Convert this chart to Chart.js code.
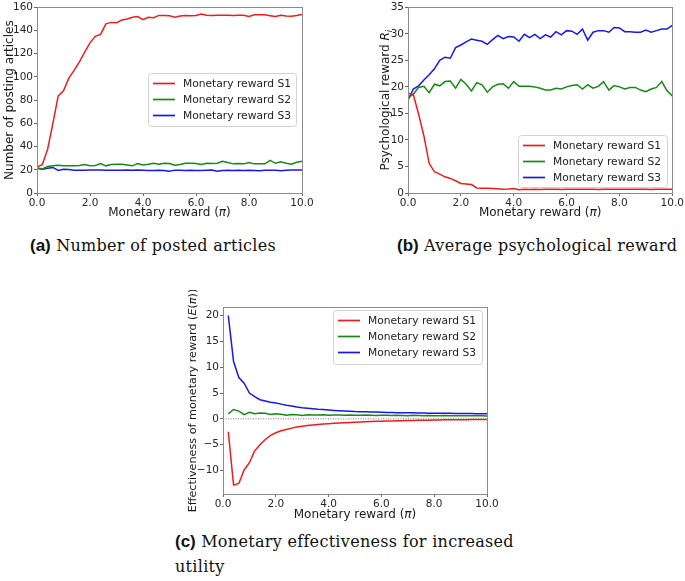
<!DOCTYPE html>
<html>
<head>
<meta charset="utf-8">
<script src="https://cdn.jsdelivr.net/npm/chart.js"></script>
<style>
  html, body { margin: 0; padding: 0; background: #fff; }
  #fig { position: relative; width: 685px; height: 581px; overflow: hidden; background: #fff; }
  #fig canvas { position: absolute; }
  .cap { position: absolute; font-family: 'DejaVu Serif', serif; font-size: 16px; letter-spacing: 0.3px; color: #111; white-space: nowrap; line-height: 26px; }
  .cap b { font-family: 'Liberation Sans', Arial, sans-serif; font-weight: bold; font-size: 17px; letter-spacing: 0; }
</style>
</head>
<body>
<div id="fig">
  <canvas id="chartA" width="340" height="225" style="left:0;top:0"></canvas>
  <canvas id="chartB" width="345" height="225" style="left:340px;top:0"></canvas>
  <canvas id="chartC" width="360" height="235" style="left:160px;top:290px"></canvas>
  <div class="cap" style="left:30px;top:233px"><b>(a)</b> Number of posted articles</div>
  <div class="cap" style="left:397px;top:233px"><b>(b)</b> Average psychological reward</div>
  <div class="cap" style="left:175px;top:529px;line-height:25px"><b>(c)</b> Monetary effectiveness for increased<br>utility</div>
</div>
<script>
// monetary reward pi, steps of 0.2
const rewardSteps = [0.0, 0.2, 0.4, 0.6, 0.8, 1.0, 1.2, 1.4, 1.6, 1.8, 2.0, 2.2, 2.4, 2.6, 2.8, 3.0, 3.2, 3.4, 3.6, 3.8, 4.0,
    4.2, 4.4, 4.6, 4.8, 5.0, 5.2, 5.4, 5.6, 5.8, 6.0, 6.2, 6.4, 6.6, 6.8, 7.0, 7.2, 7.4, 7.6, 7.8, 8.0,
    8.2, 8.4, 8.6, 8.8, 9.0, 9.2, 9.4, 9.6, 9.8, 10.0];
const rewardStepsC = rewardSteps.slice(1); // (c) starts at 0.2

const seriesLabels = ['Monetary reward S1', 'Monetary reward S2', 'Monetary reward S3'];
const seriesColors = ['#f01c1c', '#158a15', '#1717ee'];

// (a) number of posting articles
const postS1 = [22.3, 24.3, 37.7, 60, 83.7, 88, 99, 105.7, 112.9, 121.4, 129.4, 135, 136.6, 145.7, 147, 146.6, 149, 150, 151.4, 152, 149.4,
    151.4, 151, 153, 153, 152.8, 151.5, 152.5, 153, 152.8, 153, 154.2, 153.2, 153, 153.2, 153.2, 153.2, 153, 153.2, 153.2, 152,
    153.5, 153.5, 153.5, 152.8, 152, 153.2, 152.5, 152.2, 153, 153.8];
const postS2 = [21.4, 20.8, 22.8, 23.4, 24, 23.4, 23.4, 23.4, 23.7, 24.5, 23.4, 23.7, 25.4, 23.4, 24.5, 24.8, 24.8, 24.2, 23.4, 25.4, 24.2,
    24.8, 25.6, 24.8, 25.6, 25.4, 24, 24.5, 25.6, 25.6, 25.4, 24.5, 25.6, 25.4, 25.6, 27.4, 26.2, 25.1, 25.4, 25.1, 26.2,
    25.1, 25.1, 25.1, 28.2, 25.6, 26.8, 25.6, 24.8, 26.5, 27.4];
const postS3 = [21.4, 20.5, 21.4, 22, 19.4, 20.5, 20.2, 19.7, 19.7, 19.7, 19.9, 19.9, 19.9, 19.7, 19.7, 19.7, 19.7, 19.9, 19.7, 19.9, 19.7,
    19.4, 19.4, 19.7, 19.4, 18.8, 19.7, 19.7, 19.4, 19.7, 19.4, 19.4, 19.7, 19.9, 18.8, 19.4, 19.7, 19.4, 19.7, 19.4, 19.7,
    19.4, 19.1, 19.7, 19.7, 19.7, 19.1, 19.7, 19.9, 19.9, 19.9];

// (b) average psychological reward
const psyS1 = [18.8, 18.6, 14.9, 10.8, 5.6, 4.0, 3.55, 3.05, 2.75, 2.3, 1.8, 1.7, 1.6, 0.95, 0.9, 0.9, 0.85, 0.8, 0.7, 0.75, 0.85,
    0.6, 0.7, 0.65, 0.7, 0.65, 0.7, 0.72, 0.7, 0.68, 0.7, 0.7, 0.72, 0.7, 0.7, 0.7, 0.68, 0.7, 0.7, 0.7, 0.7,
    0.7, 0.7, 0.72, 0.7, 0.7, 0.68, 0.7, 0.7, 0.7, 0.7];
const psyS2 = [18.0, 18.6, 19.9, 20.1, 18.9, 20.5, 20.2, 21.0, 21.1, 19.75, 21.4, 20.5, 19.25, 20.8, 20.4, 19.0, 20.0, 20.5, 20.6, 19.75, 21.0,
    20.1, 20.1, 20.1, 20.0, 19.75, 19.4, 19.4, 19.75, 19.6, 20.0, 20.25, 20.4, 19.6, 20.4, 19.75, 20.1, 21.0, 19.4, 20.25, 20.0,
    19.6, 19.9, 19.9, 19.4, 19.1, 19.6, 19.9, 21.0, 19.25, 18.3];
const psyS3 = [17.5, 19.6, 20.2, 21.3, 22.3, 23.4, 25.0, 25.6, 25.4, 27.4, 27.9, 28.5, 29.0, 28.8, 28.6, 28.0, 28.9, 29.7, 29.1, 29.5, 29.4,
    28.6, 29.9, 29.3, 29.9, 29.1, 29.8, 29.4, 30.4, 29.8, 30.6, 30.5, 29.9, 30.9, 28.8, 30.3, 30.6, 30.6, 30.3, 31.2, 31.1,
    30.4, 30.4, 30.3, 30.3, 30.7, 30.3, 30.6, 30.9, 30.9, 31.6];

// (c) effectiveness of monetary reward E(pi), from pi = 0.2
const effS1 = [-2.5, -12.8, -12.5, -9.9, -8.5, -6.2, -5.0, -4.0, -3.2, -2.7, -2.3, -2.05, -1.8, -1.6, -1.45, -1.3, -1.2, -1.1, -1.0, -0.93,
    -0.85, -0.8, -0.75, -0.7, -0.65, -0.6, -0.55, -0.5, -0.48, -0.45, -0.42, -0.4, -0.37, -0.35, -0.33, -0.3, -0.28, -0.26, -0.25, -0.23,
    -0.22, -0.2, -0.19, -0.18, -0.17, -0.16, -0.15, -0.14, -0.13, -0.12];
const effS2 = [0.95, 1.8, 1.5, 0.8, 1.25, 1.0, 1.15, 1.1, 0.85, 1.0, 0.9, 0.7, 0.85, 0.8, 0.65, 0.78, 0.75, 0.72, 0.78, 0.7,
    0.75, 0.72, 0.7, 0.74, 0.7, 0.68, 0.72, 0.7, 0.66, 0.7, 0.68, 0.65, 0.7, 0.66, 0.6, 0.68, 0.64, 0.62, 0.66, 0.62,
    0.6, 0.63, 0.61, 0.6, 0.62, 0.6, 0.58, 0.6, 0.58, 0.57];
const effS3 = [20.0, 11.1, 8.0, 6.9, 5.0, 4.3, 3.7, 3.45, 3.2, 3.05, 2.85, 2.65, 2.5, 2.3, 2.15, 2.05, 1.95, 1.85, 1.8, 1.7,
    1.62, 1.55, 1.5, 1.45, 1.4, 1.38, 1.35, 1.33, 1.3, 1.28, 1.25, 1.23, 1.2, 1.18, 1.2, 1.16, 1.13, 1.12, 1.1, 1.1,
    1.08, 1.07, 1.06, 1.05, 1.04, 1.03, 1.02, 1.0, 1.0, 1.0];

const xTickValues = [0, 2, 4, 6, 8, 10];
const yTicksA = [0, 20, 40, 60, 80, 100, 120, 140, 160];
const yTicksB = [0, 5, 10, 15, 20, 25, 30, 35];
const yTicksC = [-10, -5, 0, 5, 10, 15, 20];

const FONT = 'DejaVu Sans';
const TICK_FONT = { family: FONT, size: 10.5 };
const TICK_COLOR = '#262626';

// full box round the plot area, like matplotlib spines
const framePlugin = {
    id: 'frame',
    afterDatasetsDraw(chart) {
        const { ctx, chartArea: a } = chart;
        ctx.save();
        ctx.strokeStyle = '#8c8c8c';
        ctx.lineWidth = 1;
        ctx.strokeRect(Math.round(a.left) + 0.5, Math.round(a.top) + 0.5, Math.round(a.right - a.left), Math.round(a.bottom - a.top));
        ctx.restore();
    }
};

// legend box drawn inside the axes
const boxLegend = {
    id: 'boxLegend',
    afterDraw(chart, args, o) {
        const ctx = chart.ctx;
        ctx.save();
        ctx.beginPath();
        ctx.roundRect(o.x + 0.5, o.y + 0.5, o.w, o.h, 3);
        ctx.fillStyle = 'rgba(255,255,255,0.85)';
        ctx.fill();
        ctx.strokeStyle = '#d2d2d2';
        ctx.lineWidth = 1;
        ctx.stroke();
        ctx.font = '10.7px "' + FONT + '"';
        ctx.textBaseline = 'middle';
        chart.data.datasets.filter(d => d.inLegend).forEach((d, i) => {
            const y = o.y + 10.5 + i * 16;
            ctx.strokeStyle = d.borderColor;
            ctx.lineWidth = 1.7;
            ctx.beginPath();
            ctx.moveTo(o.x + 5, y);
            ctx.lineTo(o.x + 27, y);
            ctx.stroke();
            ctx.fillStyle = '#222';
            ctx.fillText(d.label, o.x + 35, y + 0.5);
        });
        ctx.restore();
    }
};

// axis titles with italic / subscript parts
function drawRich(ctx, segs, cx, cy, rot) {
    ctx.save();
    ctx.translate(cx, cy);
    ctx.rotate(rot);
    ctx.textBaseline = 'alphabetic';
    let total = 0;
    segs.forEach(s => {
        ctx.font = s.font;
        s.w = ctx.measureText(s.text).width;
        total += s.w;
    });
    let x = -total / 2;
    ctx.fillStyle = '#1a1a1a';
    segs.forEach(s => {
        ctx.font = s.font;
        ctx.fillText(s.text, x, 4.3 + (s.dy || 0));
        x += s.w;
    });
    ctx.restore();
}
const richTitles = {
    id: 'richTitles',
    afterDraw(chart, args, o) {
        const a = chart.chartArea;
        drawRich(chart.ctx, o.x, (a.left + a.right) / 2, o.xAt, 0);
        drawRich(chart.ctx, o.y, o.yAt, (a.top + a.bottom) / 2, -Math.PI / 2);
    }
};

const up = (t, px) => ({ text: t, font: (px || 12) + 'px "' + FONT + '"' });
const it = (t, px) => ({ text: t, font: 'oblique ' + (px || 12) + 'px "' + FONT + '"' });
const xTitle = [up('Monetary reward ('), it('π'), up(')')];

function makeChart(id, xs, values, cfg) {
    const datasets = values.map((vals, i) => ({
        label: seriesLabels[i],
        inLegend: true,
        data: xs.map((x, j) => ({ x: x, y: vals[j] })),
        borderColor: seriesColors[i],
        borderWidth: 1.5,
        pointRadius: 0,
        tension: 0,
        fill: false
    }));
    if (cfg.zeroLine) {
        datasets.unshift({
            label: 'zero',
            inLegend: false,
            data: [{ x: 0, y: 0 }, { x: 10, y: 0 }],
            borderColor: '#555',
            borderWidth: 0.8,
            borderDash: [1, 1.5],
            pointRadius: 0
        });
    }
    return new Chart(document.getElementById(id), {
        type: 'line',
        data: { datasets: datasets },
        options: {
            responsive: false,
            animation: false,
            events: [],
            layout: { padding: { left: 0, top: cfg.top, right: cfg.right, bottom: 0 } },
            plugins: {
                legend: { display: false },
                tooltip: { enabled: false },
                boxLegend: cfg.legend,
                richTitles: { x: xTitle, y: cfg.yTitle, xAt: cfg.xTitleAt, yAt: cfg.yTitleAt }
            },
            scales: {
                x: {
                    type: 'linear',
                    min: 0,
                    max: 10,
                    afterBuildTicks: s => { s.ticks = xTickValues.map(v => ({ value: v })); },
                    afterFit: s => { s.height = cfg.xHeight; },
                    ticks: { callback: v => v.toFixed(1), font: TICK_FONT, color: TICK_COLOR, padding: 1, maxRotation: 0, autoSkip: false },
                    grid: { drawOnChartArea: false, tickLength: 3, color: '#666' },
                    border: { display: false }
                },
                y: {
                    type: 'linear',
                    min: cfg.yMin,
                    max: cfg.yMax,
                    afterBuildTicks: s => { s.ticks = cfg.yTicks.map(v => ({ value: v })); },
                    afterFit: s => { s.width = cfg.yWidth; },
                    ticks: {
                        callback: v => v < 0 ? '\u2212' + Math.abs(v) : String(v),
                        font: TICK_FONT, color: TICK_COLOR, padding: 1, autoSkip: false
                    },
                    grid: { drawOnChartArea: false, tickLength: 3, color: '#666' },
                    border: { display: false }
                }
            }
        },
        plugins: [framePlugin, boxLegend, richTitles]
    });
}

makeChart('chartA', rewardSteps, [postS1, postS2, postS3], {
    top: 6, right: 38, yWidth: 37, xHeight: 32,
    yMin: 0, yMax: 160, yTicks: yTicksA,
    legend: { x: 148, y: 73, w: 148, h: 53 },
    yTitle: [up('Number of posting articles')],
    xTitleAt: 212, yTitleAt: 8.5
});

makeChart('chartB', rewardSteps, [psyS1, psyS2, psyS3], {
    top: 6, right: 12, yWidth: 68, xHeight: 32,
    yMin: 0, yMax: 35, yTicks: yTicksB,
    legend: { x: 178, y: 135, w: 149, h: 52 },
    yTitle: [up('Psychological reward '), it('R'), { text: 'i', font: 'oblique 8.5px "' + FONT + '"', dy: 2.5 }],
    xTitleAt: 212, yTitleAt: 45
});

makeChart('chartC', rewardStepsC, [effS1, effS2, effS3], {
    top: 17, right: 33, yWidth: 63, xHeight: 31,
    yMin: -14.55, yMax: 21.65, yTicks: yTicksC,
    zeroLine: true,
    legend: { x: 173, y: 20, w: 149, h: 54 },
    yTitle: [up('Effectiveness of monetary reward (', 11.2), it('E', 11.2), up('(', 11.2), it('π', 11.2), up('))', 11.2)],
    xTitleAt: 224, yTitleAt: 32
});
</script>
</body>
</html>
